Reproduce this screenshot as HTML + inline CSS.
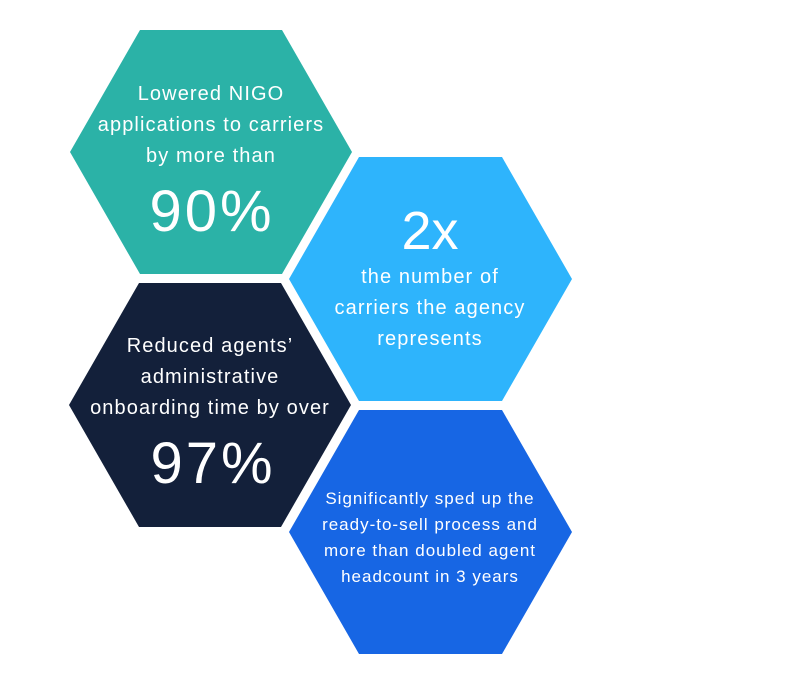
<!DOCTYPE html>
<html><head><style>
body{margin:0;width:796px;height:684px;background:#fff;overflow:hidden;font-family:"Liberation Sans",sans-serif}
svg{position:absolute;left:0;top:0}
</style></head><body>
<svg width="796" height="684" viewBox="0 0 796 684">
<polygon points="140,30 282,30 352,152 282,274 140,274 70,152" fill="#2bb2a7"/>
<polygon points="359,157 502,157 572,279 502,401 359,401 289,279" fill="#2eb4fc"/>
<polygon points="139,283 281,283 351,405 281,527 139,527 69,405" fill="#13203a"/>
<polygon points="359,410 502,410 572,532 502,654 359,654 289,532" fill="#1766e4"/>
<g fill="#fff" text-anchor="middle" font-family="Liberation Sans, sans-serif">
<g font-size="20" letter-spacing="1.1">
<text x="211" y="100">Lowered NIGO</text>
<text x="211" y="131">applications to carriers</text>
<text x="211" y="162">by more than</text>
</g>
<text x="212" y="231" font-size="58" letter-spacing="3">90%</text>
<text x="430" y="249" font-size="54">2x</text>
<g font-size="20" letter-spacing="1.1">
<text x="430" y="283">the number of</text>
<text x="430" y="314">carriers the agency</text>
<text x="430" y="345">represents</text>
<text x="210" y="352">Reduced agents’</text>
<text x="210" y="383">administrative</text>
<text x="210" y="414">onboarding time by over</text>
</g>
<text x="213" y="483" font-size="58" letter-spacing="3">97%</text>
<g font-size="17" letter-spacing="1">
<text x="430" y="504">Significantly sped up the</text>
<text x="430" y="530">ready-to-sell process and</text>
<text x="430" y="556">more than doubled agent</text>
<text x="430" y="582">headcount in 3 years</text>
</g>
</g>
</svg>
</body></html>
